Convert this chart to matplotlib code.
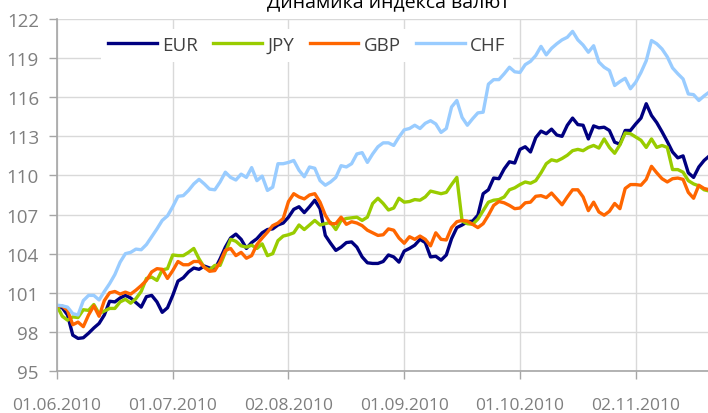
import numpy as np
import pandas as pd
import matplotlib
matplotlib.use("Agg")
import matplotlib.pyplot as plt

plt.rcParams['font.family'] = ['Open Sans', 'DejaVu Sans']

# рабочие дни начиная с 01.06.2010
dates = pd.bdate_range("2010-06-01", periods=125)

eur = [100.0, 99.85, 99.3, 97.75, 97.5, 97.55, 97.9, 98.3, 98.65, 99.3,
       100.35, 100.3, 100.6, 100.8, 100.6, 100.25, 99.9, 100.7, 100.8, 100.3,
       99.5, 99.85, 100.8, 101.9, 102.15, 102.6, 102.9, 102.8, 103.05, 102.9,
       102.8, 103.6, 104.5, 105.2, 105.5, 105.1, 104.4, 104.85, 105.15, 105.6,
       105.85, 105.9, 106.2, 106.35, 106.8, 107.4, 107.6, 107.15, 107.6, 108.1,
       107.45, 105.4, 104.8, 104.25, 104.5, 104.85, 104.9, 104.5, 103.75, 103.3,
       103.25, 103.25, 103.4, 103.9, 103.75, 103.35, 104.2, 104.4, 104.65, 105.1,
       104.85, 103.75, 103.8, 103.5, 103.9, 105.15, 106.0, 106.2, 106.45, 106.5,
       106.95, 108.6, 108.9, 109.8, 109.75, 110.5, 111.05, 110.95, 112.0, 112.2,
       111.8, 112.9, 113.4, 113.2, 113.55, 113.1, 113.0, 113.85, 114.4, 113.9,
       113.85, 112.8, 113.8, 113.65, 113.7, 113.45, 112.55, 112.4, 113.45, 113.45,
       113.95, 114.4, 115.5, 114.6, 114.05, 113.35, 112.6, 111.8, 111.35, 111.5,
       110.2, 109.85, 110.65, 111.15, 111.5]

jpy = [100.0, 99.2, 98.9, 99.15, 99.1, 99.7, 99.65, 100.1, 99.4, 99.6,
       99.8, 99.8, 100.3, 100.5, 100.2, 100.55, 101.1, 102.1, 102.2, 101.95,
       102.75, 102.85, 103.9, 103.85, 103.85, 104.1, 104.4, 103.6, 102.95, 102.75,
       103.1, 103.1, 104.1, 105.1, 104.95, 104.6, 104.5, 104.65, 104.4, 104.75,
       103.85, 104.0, 105.0, 105.35, 105.45, 105.6, 106.2, 105.85, 106.2, 106.55,
       106.2, 106.3, 106.4, 105.85, 106.55, 106.7, 106.75, 106.8, 106.55, 106.8,
       107.85, 108.25, 107.85, 107.35, 107.5, 108.25, 107.95, 108.0, 108.15, 108.1,
       108.35, 108.8, 108.7, 108.6, 108.7, 109.3, 109.85, 106.5, 106.3, 106.25,
       106.65, 107.3, 107.95, 108.1, 108.15, 108.35, 108.9, 109.05, 109.3, 109.5,
       109.4, 109.6, 110.2, 110.9, 111.2, 111.1, 111.3, 111.55, 111.9, 112.0,
       111.9, 112.15, 112.3, 112.1, 112.8, 112.15, 111.7, 112.35, 113.25, 113.2,
       112.95, 112.7, 112.15, 112.8, 112.15, 112.3, 112.15, 110.45, 110.45, 110.25,
       109.6, 109.35, 109.2, 108.9, 108.8]

gbp = [100.0, 99.98, 99.65, 98.55, 98.75, 98.4, 99.3, 100.0, 99.2, 100.4,
       101.0, 101.1, 100.9, 101.05, 100.9, 101.2, 101.55, 101.95, 102.6, 102.85,
       102.8, 102.1, 102.7, 103.4, 103.15, 103.15, 103.4, 103.4, 102.95, 102.65,
       102.7, 103.35, 104.25, 104.4, 103.85, 104.1, 103.65, 103.85, 104.7, 105.2,
       105.65, 106.15, 106.35, 106.7, 108.0, 108.6, 108.35, 108.2, 108.5, 108.6,
       107.95, 106.95, 106.3, 106.3, 106.8, 106.25, 106.45, 106.35, 106.15, 105.8,
       105.6, 105.4, 105.45, 105.9, 105.8, 105.2, 104.8, 105.3, 105.1, 105.35,
       105.1, 104.6, 105.6, 105.1, 105.05, 106.0, 106.45, 106.55, 106.5, 106.25,
       106.0, 106.3, 106.95, 107.7, 108.0, 107.9, 107.7, 107.45, 107.5, 107.9,
       107.95, 108.4, 108.45, 108.3, 108.65, 108.2, 107.75, 108.35, 108.9, 108.9,
       108.35, 107.3, 107.95, 107.2, 106.95, 107.25, 107.85, 107.45, 109.0, 109.3,
       109.3, 109.25, 109.7, 110.7, 110.2, 109.75, 109.5, 109.75, 109.8, 109.7,
       108.7, 108.25, 109.25, 109.0, 108.9]

chf = [100.05, 100.0, 99.9, 99.4, 99.3, 100.4, 100.8, 100.8, 100.45, 101.1,
       101.7, 102.4, 103.35, 104.0, 104.1, 104.35, 104.3, 104.7, 105.3, 105.9,
       106.55, 106.9, 107.6, 108.4, 108.45, 108.85, 109.35, 109.7, 109.35, 108.95,
       108.9, 109.5, 110.25, 109.85, 109.65, 110.1, 109.85, 110.6, 109.6, 109.95,
       108.85, 109.1, 110.9, 110.9, 111.0, 111.15, 110.4, 109.9, 110.65, 110.55,
       109.6, 109.25, 109.5, 109.85, 110.75, 110.65, 110.9, 111.65, 111.75, 111.0,
       111.65, 112.2, 112.5, 112.5, 112.3, 112.95, 113.5, 113.6, 113.85, 113.6,
       114.0, 114.2, 113.95, 113.3, 113.6, 115.25, 115.75, 114.45, 113.85, 114.35,
       114.8, 114.85, 117.0, 117.35, 117.35, 117.8, 118.3, 117.95, 117.9, 118.5,
       118.75, 119.2, 119.9, 119.25, 119.75, 120.1, 120.4, 120.6, 121.05, 120.4,
       120.0, 119.45, 119.95, 118.7, 118.3, 118.05, 116.9, 117.2, 117.45, 116.65,
       117.15, 117.9, 118.8, 120.35, 120.1, 119.7, 119.1, 118.25, 117.8, 117.4,
       116.25, 116.2, 115.75, 116.1, 116.4]

series = [("EUR", eur, "#000080"), ("JPY", jpy, "#99cc00"),
          ("GBP", gbp, "#ff6600"), ("CHF", chf, "#99ccff")]

fig = plt.figure(figsize=(7.08, 4.14), dpi=100)
ax = fig.add_axes([57 / 708, 1 - 372 / 414, 651 / 708, 352 / 414])

x = np.arange(len(dates))
for name, vals, col in series:
    ax.plot(x, vals, color=col, lw=2.4, label=name)

ax.set_xlim(0, 651 / 5.261)
ax.set_ylim(95, 122)
ax.set_yticks(np.arange(95, 123, 3))
ax.set_xticks(x[::22])
ax.set_xticklabels(dates[::22].strftime("%d.%m.%Y"))

ax.grid(True, color="#d9d9d9", lw=1)
ax.set_axisbelow(True)
for s in ["top", "right"]:
    ax.spines[s].set_visible(False)
for s in ["left", "bottom"]:
    ax.spines[s].set_color("#a6a6a6")
    ax.spines[s].set_linewidth(1.2)
ax.tick_params(axis="both", colors="#a6a6a6", labelcolor="#7f7f7f",
               labelsize=13.5, length=6, width=1)
ax.tick_params(axis="x", pad=13, labelsize=12.5)
ax.tick_params(axis="y", pad=7)

leg = ax.legend(ncol=4, loc="center", bbox_to_anchor=(307 / 708, 1 - 46 / 414),
                bbox_transform=fig.transFigure, frameon=True, fancybox=False,
                facecolor="white", edgecolor="none", framealpha=1,
                fontsize=13.5, handlelength=2.6, handletextpad=0.3,
                columnspacing=0.8, borderpad=0.4)
for t in leg.get_texts():
    t.set_color("#404040")

fig.text(388 / 708, 1 - 7 / 414, "Динамика индекса валют", ha="center",
         va="baseline", fontsize=14, color="#000000")

fig.savefig("out.png", dpi=100)
